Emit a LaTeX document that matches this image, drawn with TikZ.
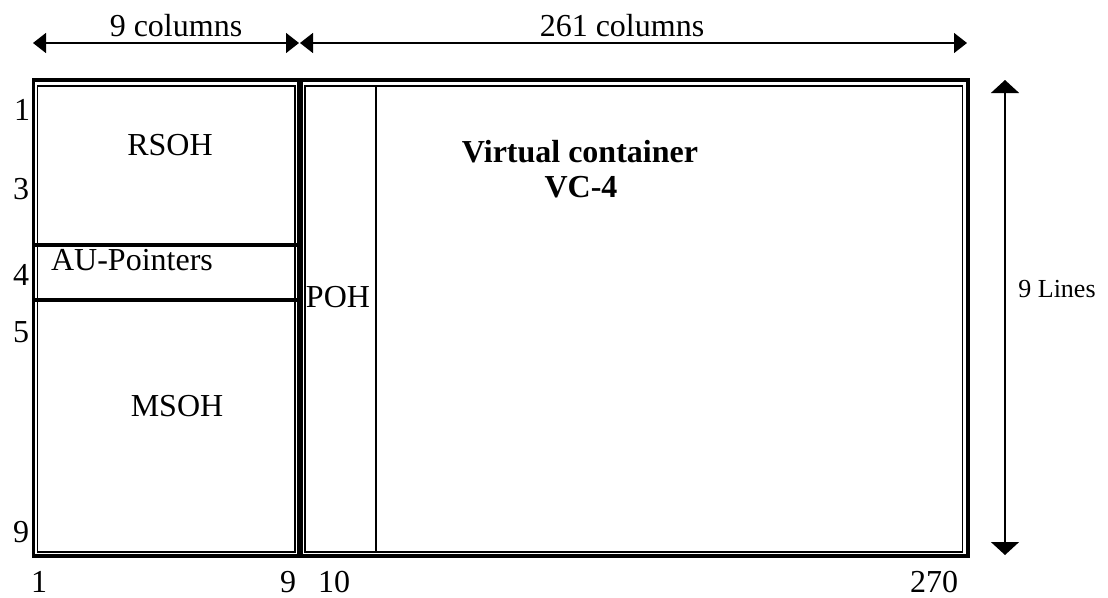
\documentclass[tikz,border=0pt]{standalone}
\usepackage{fontspec}
\setmainfont{Liberation Serif}
\usetikzlibrary{arrows.meta}

\begin{document}
\begin{tikzpicture}[x=1pt, y=-1pt,
    outer/.style={line width=3.5pt},
    inner/.style={line width=1.6pt},
    sep/.style={line width=3.2pt},
    dimh/.style={line width=1.5pt, {Triangle[length=13pt,width=20pt]}-{Triangle[length=13pt,width=20pt]}},
    dimv/.style={line width=1.5pt, {Triangle[length=13pt,width=28pt]}-{Triangle[length=13pt,width=28pt]}},
    lbl/.style={anchor=base, inner sep=0pt, font=\fontsize{32}{38}\selectfont},
    hdr/.style={lbl, font=\fontsize{32}{38}\selectfont\bfseries},
    side/.style={lbl, font=\fontsize{26}{30}\selectfont}]
  \useasboundingbox (0,0) rectangle (1108,597);
  % frame corners
  \coordinate (soh-tl) at (33.5,80);
  \coordinate (soh-br) at (299,556);
  \coordinate (pay-tl) at (301,80);
  \coordinate (pay-br) at (968,556);
  \draw[outer] (soh-tl) rectangle (soh-br);
  \draw[outer] (pay-tl) rectangle (pay-br);
  \draw[inner] (37.5,86) rectangle (295,552);
  \draw[inner] (305,86) rectangle (962.5,552);
  % AU pointer rows and POH column
  \coordinate (au-l1) at (33.5,245);
  \coordinate (au-r1) at (299,245);
  \coordinate (au-l2) at (33.5,300);
  \coordinate (au-r2) at (299,300);
  \draw[sep] (au-l1) -- (au-r1);
  \draw[sep] (au-l2) -- (au-r2);
  \coordinate (poh-t) at (376,86);
  \coordinate (poh-b) at (376,552);
  \draw[line width=2pt] (poh-t) -- (poh-b);
  % dimension arrows
  \coordinate (c9-l) at (33,43);
  \coordinate (c9-r) at (299,43);
  \coordinate (c261-l) at (300,43);
  \coordinate (c261-r) at (967,43);
  \coordinate (ln-t) at (1005,80);
  \coordinate (ln-b) at (1005,555);
  \draw[dimh] (c9-l) -- (c9-r);
  \draw[dimh] (c261-l) -- (c261-r);
  \draw[dimv] (ln-t) -- (ln-b);
  \node[lbl] (cols9) at (176,36) {9 columns};
  \node[lbl] (cols261) at (622,36) {261 columns};
  \node[side] (lines) at (1057,297) {9 Lines};
  % section labels
  \node[lbl] (rsoh) at (170,155) {RSOH};
  \node[lbl] (aup) at (132,270) {AU-Pointers};
  \node[lbl] (msoh) at (177,416) {MSOH};
  \node[lbl] (poh) at (338,307) {POH};
  \node[hdr] (vc) at (580,162) {Virtual container};
  \node[hdr] (vc4) at (581,197) {VC-4};
  % row numbers
  \node[lbl] (r1) at (22,120) {1};
  \node[lbl] (r3) at (21,199) {3};
  \node[lbl] (r4) at (21,285) {4};
  \node[lbl] (r5) at (21,342) {5};
  \node[lbl] (r9) at (21,542) {9};
  % column numbers
  \node[lbl] (k1) at (39,592) {1};
  \node[lbl] (k9) at (288,592) {9};
  \node[lbl] (k10) at (334,592) {10};
  \node[lbl] (k270) at (934,592) {270};
\end{tikzpicture}
\end{document}
